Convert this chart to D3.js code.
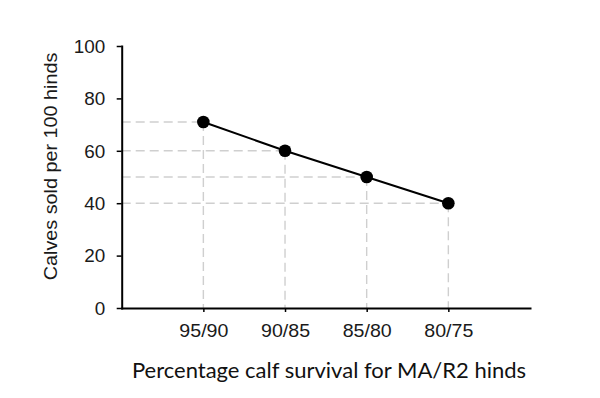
<!DOCTYPE html>
<html>
<head>
<meta charset="utf-8">
<script src="https://cdn.jsdelivr.net/npm/d3@7"></script>
<style>
  html, body { margin: 0; padding: 0; background: #fff; }
  svg { display: block; }
</style>
</head>
<body>
<svg id="chart" width="600" height="398"></svg>
<script>
// ---- data ----
const categories = ["95/90", "90/85", "85/80", "80/75"];
const calvesSold = [71, 60, 50, 40];
const yTicks = [0, 20, 40, 60, 80, 100];
const yTitle = "Calves sold per 100 hinds";
const xTitle = "Percentage calf survival for MA/R2 hinds";

// ---- layout ----
const svg = d3.select("#chart");
const mLeft = 121.7, mRight = 530, mTop = 46, mBottom = 308;
const x = d3.scalePoint().domain(categories).range([mLeft, mRight]).padding(1);
const y = d3.scaleLinear().domain([0, 100]).range([mBottom, mTop]);
const pts = categories.map((c, i) => ({ c, v: calvesSold[i] }));

const grid = svg.append("g")
  .attr("stroke", "#cfcfcf").attr("stroke-width", 1.4).attr("stroke-dasharray", "9,5").attr("fill", "none");
grid.selectAll("line.h").data(pts).enter().append("line")
  .attr("x1", mLeft).attr("x2", d => x(d.c))
  .attr("y1", d => y(d.v)).attr("y2", d => y(d.v));
grid.selectAll("line.v").data(pts).enter().append("line")
  .attr("x1", d => x(d.c)).attr("x2", d => x(d.c))
  .attr("y1", d => y(d.v)).attr("y2", mBottom);

// x axis
const xAxis = svg.append("g").attr("transform", `translate(0,${mBottom})`)
  .call(d3.axisBottom(x).tickSize(4).tickSizeOuter(0));
xAxis.select(".domain").attr("stroke", "#000").attr("stroke-width", 2);
xAxis.selectAll(".tick line").attr("stroke", "#000").attr("stroke-width", 1.5);
xAxis.selectAll(".tick text")
  .attr("y", 29.5).attr("dy", 0).attr("x", 0)
  .attr("font-family", "'Liberation Sans', Arial, sans-serif").attr("font-size", 18)
  .attr("fill", "#1a1a1a")
  .attr("transform", "scale(1.09,1)");

// y axis
const yAxis = svg.append("g").attr("transform", `translate(${mLeft},0)`)
  .call(d3.axisLeft(y).tickValues(yTicks).tickSize(5).tickSizeOuter(0));
yAxis.select(".domain").attr("stroke", "#000").attr("stroke-width", 2);
yAxis.selectAll(".tick line").attr("stroke", "#000").attr("stroke-width", 1.5);
yAxis.selectAll(".tick text")
  .attr("x", -16.5 / 1.05).attr("dy", "0.35em")
  .attr("font-family", "'Liberation Sans', Arial, sans-serif").attr("font-size", 18)
  .attr("fill", "#1a1a1a")
  .attr("transform", "scale(1.05,1)");
svg.selectAll(".domain").attr("stroke-linecap", "square");

// line + points
svg.append("path").datum(pts)
  .attr("fill", "none").attr("stroke", "#000").attr("stroke-width", 2)
  .attr("d", d3.line().x(d => x(d.c)).y(d => y(d.v)));
svg.selectAll("circle.pt").data(pts).enter().append("circle")
  .attr("cx", d => x(d.c)).attr("cy", d => y(d.v)).attr("r", 6.3).attr("fill", "#000");

// titles
svg.append("text")
  .attr("transform", "translate(56.5,166.5) rotate(-90) scale(1.07,1)")
  .attr("text-anchor", "middle")
  .attr("font-family", "'Liberation Sans', Arial, sans-serif").attr("font-size", 18.5)
  .attr("fill", "#1a1a1a")
  .text(yTitle);
svg.append("text")
  .attr("x", 329).attr("y", 378)
  .attr("text-anchor", "middle")
  .attr("font-family", "Lato, 'Open Sans', sans-serif").attr("font-size", 22)
  .attr("fill", "#111")
  .text(xTitle);
</script>
</body>
</html>
